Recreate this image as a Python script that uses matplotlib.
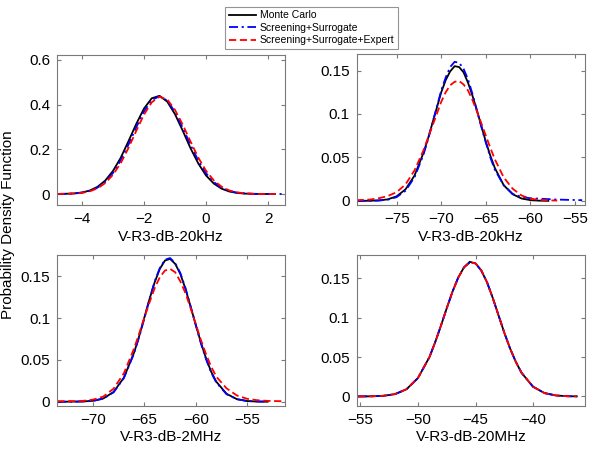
# %% import
import numpy as np
import matplotlib
matplotlib.use("Agg")
import matplotlib.pyplot as plt
from matplotlib.ticker import FormatStrFormatter

plt.rcParams["font.family"] = ["Liberation Sans", "DejaVu Sans"]
plt.rcParams["font.size"] = 11
plt.rcParams["figure.facecolor"] = "white"

nan = np.nan

# %% data
labels = ["Monte Carlo", "Screening+Surrogate", "Screening+Surrogate+Expert"]

# 20kHz (top left)
x_a = [-4.8, -4.5, -4.25, -4.0, -3.75, -3.5, -3.25, -3.0, -2.75, -2.5, -2.25, -2.0, -1.75, -1.5,
       -1.25, -1.0, -0.75, -0.5, -0.25, 0.0, 0.25, 0.5, 0.75, 1.0, 1.25, 1.5, 1.75, 2.0, 2.25, 2.5]
mc_a = [0.0004, 0.0011, 0.0028, 0.0069, 0.0155, 0.032, 0.060, 0.103, 0.162, 0.236, 0.313, 0.382, 0.428, 0.439,
        0.413, 0.357, 0.283, 0.205, 0.137, 0.083, 0.047, 0.024, 0.0113, 0.0049, 0.0019, 0.0007, 0.0002, 0.0001, nan, nan]
ss_a = [0.0003, 0.0009, 0.0024, 0.006, 0.0138, 0.0285, 0.054, 0.094, 0.150, 0.221, 0.298, 0.369, 0.420, 0.437,
        0.418, 0.367, 0.296, 0.220, 0.150, 0.093, 0.054, 0.028, 0.0135, 0.006, 0.0025, 0.001, 0.0004, 0.0002, 0.0001, 0.0001]
sse_a = [0.0003, 0.0008, 0.0021, 0.0053, 0.012, 0.025, 0.049, 0.086, 0.138, 0.206, 0.282, 0.355, 0.41, 0.435,
         0.423, 0.376, 0.31, 0.235, 0.163, 0.104, 0.061, 0.033, 0.016, 0.0074, 0.003, 0.0012, 0.0004, 0.0002, 0.0001, nan]

# 20kHz (top right)
x_b = [-79.5, -78, -77, -76, -75, -74, -73, -72, -71.5, -71, -70.5, -70, -69.5, -69, -68.5, -68, -67.5,
       -67, -66.5, -66, -65.5, -65, -64.5, -64, -63, -62, -61, -60, -59, -58, -57, -56, -55, -54.2]
mc_b = [0, 0.0001, 0.0005, 0.0017, 0.0052, 0.0133, 0.029, 0.055, 0.071, 0.089, 0.107, 0.125, 0.139, 0.149, 0.155, 0.154, 0.148,
        0.136, 0.121, 0.104, 0.086, 0.068, 0.052, 0.038, 0.018, 0.0077, 0.0027, 0.0008, 0.0002, 0, nan, nan, nan, nan]
ss_b = [0, 0.0001, 0.0004, 0.0013, 0.0043, 0.0117, 0.027, 0.053, 0.070, 0.089, 0.108, 0.127, 0.142, 0.154, 0.160, 0.159, 0.152,
        0.140, 0.123, 0.104, 0.085, 0.067, 0.050, 0.036, 0.018, 0.008, 0.0045, 0.003, 0.0025, 0.002, 0.0015, 0.0012, 0.001, 0.0008]
sse_b = [0.0008, 0.0015, 0.003, 0.0055, 0.010, 0.019, 0.035, 0.058, 0.072, 0.086, 0.100, 0.114, 0.125, 0.133, 0.137, 0.138, 0.134,
         0.127, 0.116, 0.103, 0.089, 0.075, 0.061, 0.048, 0.027, 0.014, 0.0062, 0.0025, 0.0012, 0.0006, 0.0003, nan, nan, nan]

# 2MHz (bottom left)
x_c = [-73.5, -72, -71, -70, -69, -68, -67, -66, -65.5, -65, -64.5, -64, -63.5, -63, -62.5, -62,
       -61.5, -61, -60.5, -60, -59.5, -59, -58.5, -58, -57, -56, -55, -54, -53, -52, -51.3]
mc_c = [0, 0.0001, 0.0003, 0.0011, 0.0039, 0.0117, 0.0288, 0.059, 0.079, 0.101, 0.123, 0.143, 0.159, 0.169, 0.171, 0.165,
        0.153, 0.135, 0.114, 0.092, 0.071, 0.052, 0.036, 0.024, 0.0095, 0.0031, 0.0008, 0.0002, 0, nan, nan]
ss_c = [0, 0.0001, 0.0003, 0.001, 0.0037, 0.0113, 0.0283, 0.058, 0.078, 0.100, 0.123, 0.144, 0.160, 0.170, 0.172, 0.166,
        0.154, 0.136, 0.114, 0.092, 0.070, 0.051, 0.035, 0.023, 0.009, 0.003, 0.0009, 0.0003, 0.0001, nan, nan]
sse_c = [0.0005, 0.0007, 0.001, 0.0025, 0.0062, 0.0157, 0.034, 0.064, 0.082, 0.101, 0.119, 0.136, 0.149, 0.157, 0.159, 0.155,
         0.144, 0.130, 0.112, 0.093, 0.074, 0.057, 0.042, 0.030, 0.016, 0.0075, 0.0035, 0.0018, 0.001, 0.0007, 0.0006]

# 20MHz (bottom right)
x_d = [-55.2, -54, -53, -52, -51, -50, -49, -48.5, -48, -47.5, -47, -46.5, -46, -45.5, -45,
       -44.5, -44, -43.5, -43, -42.5, -42, -41.5, -41, -40, -39, -38, -37, -36.2]
mc_d = [0, 0.0002, 0.0008, 0.0029, 0.0091, 0.0234, 0.050, 0.069, 0.090, 0.112, 0.133, 0.151, 0.164, 0.171, 0.169,
        0.160, 0.145, 0.125, 0.103, 0.081, 0.061, 0.044, 0.030, 0.0123, 0.0042, 0.0012, 0.0003, 0.0001]
ss_d = [0, 0.0002, 0.0008, 0.0029, 0.009, 0.0233, 0.050, 0.069, 0.090, 0.112, 0.133, 0.151, 0.164, 0.170, 0.169,
        0.160, 0.145, 0.125, 0.103, 0.081, 0.061, 0.044, 0.030, 0.0124, 0.0043, 0.0012, 0.0003, 0.0001]
sse_d = [0, 0.0002, 0.0008, 0.003, 0.0092, 0.0235, 0.050, 0.069, 0.090, 0.112, 0.133, 0.151, 0.164, 0.170, 0.169,
         0.160, 0.145, 0.125, 0.103, 0.081, 0.061, 0.044, 0.030, 0.0124, 0.0043, 0.0012, 0.0003, 0.0001]

xlabels = ["V-R3-dB-20kHz", "V-R3-dB-20kHz", "V-R3-dB-2MHz", "V-R3-dB-20MHz"]
xticks = [[-4, -2, 0, 2], [-75, -70, -65, -60, -55], [-70, -65, -60, -55], [-55, -50, -45, -40]]
yticks = [[0, 0.2, 0.4, 0.6], [0, 0.05, 0.1, 0.15], [0, 0.05, 0.1, 0.15], [0, 0.05, 0.1, 0.15]]
xlims = [(-4.8, 2.55), (-79.45, -53.9), (-73.5, -51.3), (-55.3, -35.5)]
ylims = [(-0.05, 0.62), (-0.005, 0.169), (-0.005, 0.176), (-0.012, 0.18)]

panels = [(x_a, mc_a, ss_a, sse_a), (x_b, mc_b, ss_b, sse_b),
          (x_c, mc_c, ss_c, sse_c), (x_d, mc_d, ss_d, sse_d)]

# %% plotting
fig = plt.figure(figsize=(5.89, 4.5), dpi=100)
rects = [[0.097, 0.544, 0.387, 0.333], [0.606, 0.544, 0.387, 0.336],
         [0.097, 0.098, 0.387, 0.336], [0.606, 0.098, 0.387, 0.336]]

frame = "#7a7a7a"
for i, (x, mc, ss, sse) in enumerate(panels):
    ax = fig.add_axes(rects[i])
    ax.plot(x, mc, color="black", lw=1.3, ls="-")
    ax.plot(x, ss, color="blue", lw=1.3, ls=(0, (5, 2, 1.2, 2)))
    ax.plot(x, sse, color="red", lw=1.3, ls=(0, (4, 2)))
    ax.set_xlim(*xlims[i])
    ax.set_ylim(*ylims[i])
    ax.set_xticks(xticks[i])
    ax.set_yticks(yticks[i])
    ax.yaxis.set_major_formatter(FormatStrFormatter("%g"))
    ax.set_xlabel(xlabels[i], labelpad=2.5)
    ax.tick_params(direction="in", top=True, right=True, length=3,
                   color=frame, labelsize=11, pad=5)
    for s in ax.spines.values():
        s.set_color(frame)
        s.set_linewidth(0.8)

fig.text(0.014, 0.5, "Probability Density Function", rotation=90,
         va="center", ha="center", fontsize=11)

handles = fig.axes[0].get_lines()
leg = fig.legend(handles, labels, loc="upper center", bbox_to_anchor=(0.529, 0.997),
                 fontsize=7.5, frameon=True, fancybox=False, handlelength=2.6,
                 borderpad=0.35, labelspacing=0.25, handletextpad=0.4)
leg.get_frame().set_edgecolor(frame)
leg.get_frame().set_linewidth(0.8)

fig.savefig("out.png", dpi=100)
